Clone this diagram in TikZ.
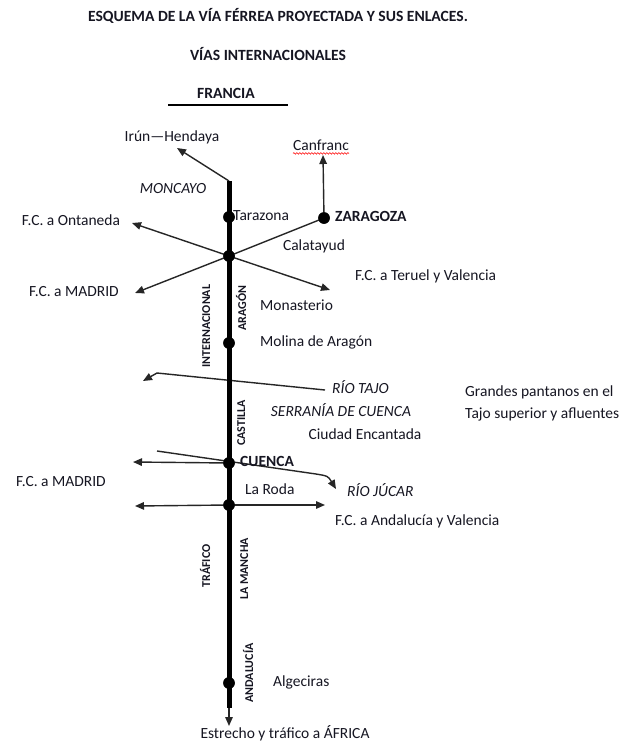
\documentclass[tikz,border=0pt]{standalone}
\usepackage{fontspec}
\setmainfont{Carlito}
\usetikzlibrary{arrows.meta,decorations.pathmorphing}
\definecolor{txt}{RGB}{22,22,34}
\begin{document}
\begin{tikzpicture}[x=1pt,y=-1pt,
  lbl/.style={inner sep=0pt, text height=0.64em, text depth=0pt, text=txt,
              font=\fontsize{15.5}{18}\selectfont},
  lblb/.style={lbl, font=\fontsize{15.5}{18}\selectfont\bfseries},
  lbli/.style={lbl, font=\fontsize{15.5}{18}\selectfont\itshape},
  ttl/.style={lbl, font=\fontsize{15.6}{19}\selectfont\bfseries},
  vlbl/.style={inner sep=0pt, text height=0.64em, text depth=0pt, text=txt,
               rotate=90, font=\fontsize{12}{14}\selectfont\bfseries},
  dot/.style={circle, fill=black, minimum size=11.5pt, inner sep=0pt},
  link/.style={line width=1.4pt, draw=black!85},
  arr/.style={link, -{Triangle[length=9pt,width=7.5pt]}},
  rail/.style={line width=5pt, draw=black}
]
\useasboundingbox (0,0) rectangle (624,742);
\fill[white] (0,0) rectangle (624,742);

% titles
\node[ttl] (t1) at (278,18) {ESQUEMA DE LA VÍA FÉRREA PROYECTADA Y SUS ENLACES.};
\node[ttl] (t2) at (268,57) {VÍAS INTERNACIONALES};
\node[ttl] (fr) at (226,95) {FRANCIA};
\draw[line width=1.2pt] (168,105) -- (288,105);

% junction points
\coordinate (top) at (229,181);
\coordinate (bot) at (229,708);
\coordinate (end) at (229,726);
\node[dot] (tar) at (229,217) {};
\node[dot] (cal) at (229,256) {};
\node[dot] (mol) at (229,343) {};
\node[dot] (cue) at (229,463) {};
\node[dot] (rod) at (229,505) {};
\node[dot] (alg) at (229,683) {};
\node[dot] (zar) at (324,218) {};

% arrow ends
\coordinate (irunT) at (177,148);
\coordinate (ontT) at (132,223);
\coordinate (terT) at (330,290);
\coordinate (madT) at (135,293);
\coordinate (canT) at (323,155);
\coordinate (tajoA) at (325,390);
\coordinate (tajoB) at (157,373);
\coordinate (tajoT) at (143,381);
\coordinate (cueT) at (133,462);
\coordinate (jucA) at (157,451);
\coordinate (jucB) at (316,474);
\coordinate (jucT) at (336,489);
\coordinate (rodL) at (135,506);
\coordinate (rodR) at (325,505);

% connectors
\draw[arr] (top) -- (irunT);
\draw[arr] (cal.center) -- (ontT);
\draw[arr] (cal.center) -- (terT);
\draw[arr] (cal.center) -- (madT);
\draw[link] (cal.center) -- (zar.center);
\draw[arr] (zar.center) -- (canT);
\draw[arr] (tajoA) -- (tajoB) -- (tajoT);
\draw[arr] (cue.center) -- (cueT);
\draw[arr] (jucA) -- (jucB) .. controls (328,476) .. (jucT);
\draw[arr] (rod.center) -- (rodL);
\draw[arr] (rod.center) -- (rodR);
\draw[arr] (bot) -- (end);
\draw[rail] (top) -- (bot);
\foreach \n in {tar,cal,mol,cue,rod,alg,zar} \node[dot] at (\n) {};

% labels
\node[lbl] (irun) at (172,138) {Irún—Hendaya};
\node[lbli] (monc) at (173,190) {MONCAYO};
\node[lbl, anchor=west] (tarL) at (233,217) {Tarazona};
\node[lbl] (ont) at (71,222) {F.C. a Ontaneda};
\node[lbl] (mad1) at (74,293) {F.C. a MADRID};
\node[lblb, anchor=west] (zarL) at (335,218) {ZARAGOZA};
\node[lbl] (canf) at (321,147) {Canfranc};
\draw[red, line width=0.6pt, decorate, decoration={snake, amplitude=0.8pt, segment length=3pt}]
  ([yshift=-3pt]canf.south west) -- ([yshift=-3pt]canf.south east);
\node[lbl] (calL) at (314,247) {Calatayud};
\node[lbl, anchor=west] (ter) at (355,277) {F.C. a Teruel y Valencia};
\node[lbl, anchor=west] (mon) at (260,307) {Monasterio};
\node[lbl, anchor=west] (molL) at (260,343) {Molina de Aragón};
\node[lbli, anchor=west] (tajo) at (332,390) {RÍO TAJO};
\node[lbli] (serr) at (341,413) {SERRANÍA DE CUENCA};
\node[lbl] (ciud) at (365,436) {Ciudad Encantada};
\node[lbl, anchor=west] (gp1) at (465,393) {Grandes pantanos en el};
\node[lbl, anchor=west] (gp2) at (465,415) {Tajo superior y afluentes};
\node[lblb, anchor=west] (cueL) at (240,463) {CUENCA};
\node[lbl, anchor=west] (rodN) at (245,491) {La Roda};
\node[lbli, anchor=west] (juc) at (347,493) {RÍO JÚCAR};
\node[lbl] (mad2) at (61,483) {F.C. a MADRID};
\node[lbl, anchor=west] (and) at (335,522) {F.C. a Andalucía y Valencia};
\node[lbl, anchor=west] (algL) at (273,683) {Algeciras};
\node[lbl] (afr) at (285,735) {Estrecho y tráfico a ÁFRICA};

% vertical labels
\node[vlbl] (vint) at (207,326) {INTERNACIONAL};
\node[vlbl] (varag) at (243,308) {ARAGÓN};
\node[vlbl] (vcas) at (242,423) {CASTILLA};
\node[vlbl] (vtra) at (207,566) {TRÁFICO};
\node[vlbl] (vman) at (245,569) {LA MANCHA};
\node[vlbl] (vand) at (250,673) {ANDALUCÍA};
\end{tikzpicture}
\end{document}
